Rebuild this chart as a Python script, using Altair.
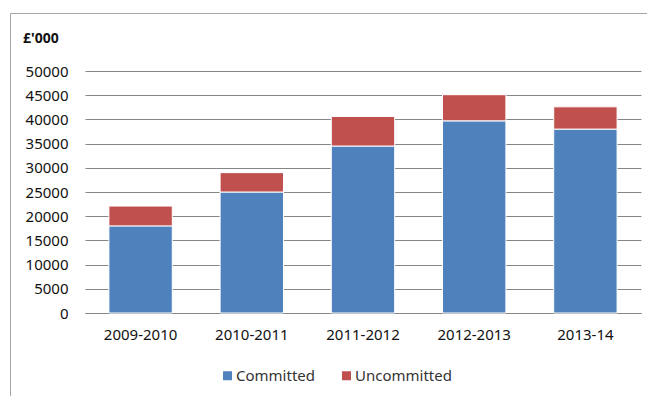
import altair as alt
import pandas as pd

years = ["2009-2010", "2010-2011", "2011-2012", "2012-2013", "2013-14"]
committed = [18000, 25000, 34500, 39700, 38000]
uncommitted = [4100, 4000, 6100, 5400, 4600]

rows = []
for i, y in enumerate(years):
    rows.append({"year": y, "type": "Committed", "value": committed[i], "ord": 0})
    rows.append({"year": y, "type": "Uncommitted", "value": uncommitted[i], "ord": 1})
df = pd.DataFrame(rows)

FONT = "Noto Sans"

bars = alt.Chart(df).mark_bar(stroke="white", strokeWidth=1).encode(
    x=alt.X("year:N", sort=years, title=None,
            scale=alt.Scale(paddingInner=0.43, paddingOuter=0.215),
            axis=alt.Axis(labelAngle=0, ticks=False, labelPadding=14,
                          domainColor="#868686", labelFontSize=15,
                          labelColor="#111111", labelFont=FONT)),
    y=alt.Y("value:Q", stack="zero", title=None,
            scale=alt.Scale(domain=[0, 50000], nice=False),
            axis=alt.Axis(values=list(range(0, 50001, 5000)), format="d",
                          domain=False, ticks=False, labelPadding=17,
                          gridColor="#868686", gridWidth=1, labelFontSize=15,
                          labelColor="#111111", labelFont=FONT)),
    color=alt.Color("type:N", title=None,
                    scale=alt.Scale(domain=["Committed", "Uncommitted"],
                                    range=["#4F81BD", "#C0504D"]),
                    legend=alt.Legend(orient="none", legendX=135, legendY=297,
                                      direction="horizontal", symbolType="square",
                                      symbolSize=81, symbolStrokeWidth=0,
                                      labelFontSize=15, labelFont=FONT,
                                      labelColor="#333333", columnPadding=24,
                                      labelOffset=1)),
    order=alt.Order("ord:Q"),
)

border = alt.Chart(alt.Data(values=[{"a": 1}])).mark_rect(
    fill=None, stroke="#a6a6a6", strokeWidth=1
).encode(
    x=alt.value(-74.5), x2=alt.value(600), y=alt.value(-57.5), y2=alt.value(400)
)

title = alt.Chart(alt.Data(values=[{"t": "£'000"}])).mark_text(
    align="left", baseline="alphabetic", fontWeight="bold", fontSize=14,
    font=FONT, color="#111111"
).encode(x=alt.value(-62), y=alt.value(-28), text="t:N")

chart = alt.layer(border, bars, title).properties(
    width=556, height=242,
    autosize=alt.AutoSizeParams(type="none"),
    padding={"left": 85, "top": 71, "right": 6, "bottom": 83},
).configure_view(stroke=None)

chart.save("out.html", embed_options={"renderer": "svg", "actions": False})
